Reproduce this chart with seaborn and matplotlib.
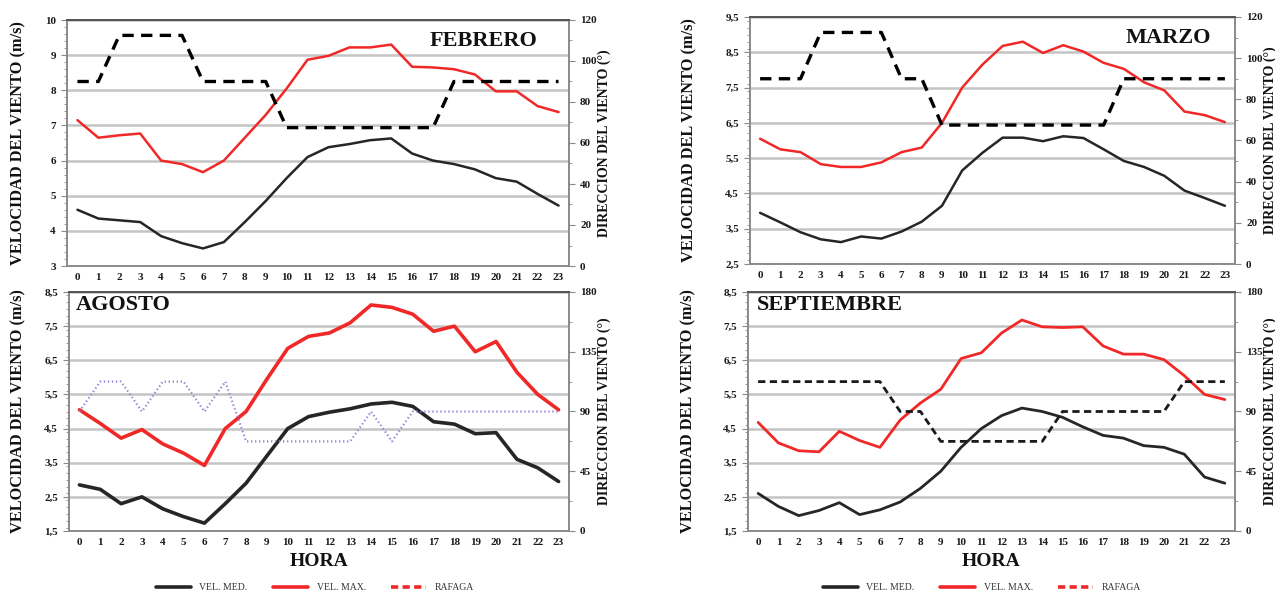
import numpy as np
import matplotlib
matplotlib.use("Agg")
import matplotlib.pyplot as plt
from matplotlib.lines import Line2D
from matplotlib.ticker import FixedLocator, MultipleLocator
import seaborn as sns

# ---------------- data ----------------
hours = list(range(24))
hour_labels = [str(h) for h in hours]

feb_vel_med = [4.60, 4.35, 4.30, 4.25, 3.85, 3.65, 3.50, 3.68, 4.25, 4.85, 5.50, 6.10,
               6.38, 6.47, 6.58, 6.63, 6.20, 6.00, 5.90, 5.75, 5.50, 5.40, 5.05, 4.72]
feb_vel_max = [7.15, 6.65, 6.72, 6.77, 6.00, 5.90, 5.67, 6.00, 6.65, 7.30, 8.05, 8.87,
               8.98, 9.22, 9.22, 9.30, 8.67, 8.65, 8.60, 8.45, 7.97, 7.97, 7.55, 7.38]
feb_rafaga = [90, 90, 112.5, 112.5, 112.5, 112.5, 90, 90, 90, 90, 67.5, 67.5,
              67.5, 67.5, 67.5, 67.5, 67.5, 67.5, 90, 90, 90, 90, 90, 90]

mar_vel_med = [3.95, 3.68, 3.40, 3.20, 3.12, 3.28, 3.22, 3.42, 3.70, 4.15, 5.15, 5.65,
               6.08, 6.08, 5.98, 6.12, 6.07, 5.75, 5.42, 5.25, 5.00, 4.58, 4.37, 4.15]
mar_vel_max = [6.05, 5.75, 5.67, 5.33, 5.25, 5.25, 5.38, 5.67, 5.80, 6.50, 7.50, 8.15,
               8.68, 8.80, 8.48, 8.70, 8.52, 8.20, 8.03, 7.65, 7.42, 6.82, 6.72, 6.52]
mar_rafaga = [90, 90, 90, 112.5, 112.5, 112.5, 112.5, 90, 90, 67.5, 67.5, 67.5,
              67.5, 67.5, 67.5, 67.5, 67.5, 67.5, 90, 90, 90, 90, 90, 90]

ago_vel_med = [2.85, 2.72, 2.30, 2.50, 2.15, 1.92, 1.73, 2.30, 2.90, 3.70, 4.50, 4.85,
               4.98, 5.08, 5.22, 5.27, 5.15, 4.70, 4.63, 4.35, 4.38, 3.60, 3.35, 2.95]
ago_vel_max = [5.05, 4.65, 4.22, 4.47, 4.05, 3.78, 3.42, 4.50, 5.00, 5.95, 6.85, 7.20,
               7.30, 7.60, 8.12, 8.05, 7.85, 7.35, 7.50, 6.75, 7.05, 6.15, 5.50, 5.05]
ago_direccion = [90, 112.5, 112.5, 90, 112.5, 112.5, 90, 112.5, 67.5, 67.5, 67.5, 67.5,
                 67.5, 67.5, 90, 67.5, 90, 90, 90, 90, 90, 90, 90, 90]

sep_vel_med = [2.60, 2.22, 1.95, 2.10, 2.33, 1.98, 2.12, 2.35, 2.75, 3.25, 3.95, 4.50,
               4.88, 5.10, 5.00, 4.83, 4.55, 4.30, 4.22, 4.00, 3.95, 3.75, 3.08, 2.90]
sep_vel_max = [4.68, 4.08, 3.85, 3.82, 4.42, 4.15, 3.95, 4.75, 5.25, 5.65, 6.55, 6.72,
               7.30, 7.68, 7.48, 7.46, 7.48, 6.92, 6.68, 6.68, 6.52, 6.05, 5.50, 5.35]
sep_rafaga = [112.5, 112.5, 112.5, 112.5, 112.5, 112.5, 112.5, 90, 90, 67.5, 67.5, 67.5,
              67.5, 67.5, 67.5, 90, 90, 90, 90, 90, 90, 112.5, 112.5, 112.5]

feb_yticks = [3, 4, 5, 6, 7, 8, 9, 10]
feb_yticklabels = ["3", "4", "5", "6", "7", "8", "9", "10"]
mar_yticks = [2.5, 3.5, 4.5, 5.5, 6.5, 7.5, 8.5, 9.5]
mar_yticklabels = ["2,5", "3,5", "4,5", "5,5", "6,5", "7,5", "8,5", "9,5"]
bot_yticks = [1.5, 2.5, 3.5, 4.5, 5.5, 6.5, 7.5, 8.5]
bot_yticklabels = ["1,5", "2,5", "3,5", "4,5", "5,5", "6,5", "7,5", "8,5"]
top_rticks = [0, 20, 40, 60, 80, 100, 120]
bot_rticks = [0, 45, 90, 135, 180]

legend_labels = ["VEL. MED.", "VEL. MAX.", "RAFAGA"]

# ---------------- style ----------------
sns.set_style("white")
plt.rcParams['font.family'] = ['Liberation Serif', 'DejaVu Serif']

W, H = 1275, 595
fig = plt.figure(figsize=(W / 100, H / 100), dpi=100)

RED = '#F02828'
DARK = '#262626'
PURPLE = '#9A80DC'
GRID = '#C4C4C4'
SPINE = '#8A8A8A'


def px_rect(x0, y0, x1, y1):
    return [x0 / W, 1 - y1 / H, (x1 - x0) / W, (y1 - y0) / H]


panels = [
    dict(title="FEBRERO", med=feb_vel_med, mx=feb_vel_max, dirn=feb_rafaga,
         ylim=(3, 10), yt=feb_yticks, ytl=feb_yticklabels, rlim=(0, 120), rt=top_rticks,
         rminor=10, yminor=0.2, rect=(67, 20, 569, 266), txy=(0.829, 0.915), ha='center',
         lw=1.8, loff=49, dstyle=dict(color='black', lw=2.4, dashes=(3.4, 2.2))),
    dict(title="MARZO", med=mar_vel_med, mx=mar_vel_max, dirn=mar_rafaga,
         ylim=(2.5, 9.5), yt=mar_yticks, ytl=mar_yticklabels, rlim=(0, 120), rt=top_rticks,
         rminor=10, yminor=0.2, rect=(750, 17, 1235, 264), txy=(0.862, 0.915), ha='center',
         lw=1.8, loff=61, dstyle=dict(color='black', lw=2.4, dashes=(3.4, 2.2))),
    dict(title="AGOSTO", med=ago_vel_med, mx=ago_vel_max, dirn=ago_direccion,
         ylim=(1.5, 8.5), yt=bot_yticks, ytl=bot_yticklabels, rlim=(0, 180), rt=bot_rticks,
         rminor=22.5, yminor=0.2, rect=(69, 292, 569, 531), txy=(0.014, 0.945), ha='left',
         lw=2.6, loff=51, dstyle=dict(color=PURPLE, lw=1.6, dashes=(0.6, 1.2))),
    dict(title="SEPTIEMBRE", med=sep_vel_med, mx=sep_vel_max, dirn=sep_rafaga,
         ylim=(1.5, 8.5), yt=bot_yticks, ytl=bot_yticklabels, rlim=(0, 180), rt=bot_rticks,
         rminor=22.5, yminor=0.2, rect=(748, 292, 1235, 531), txy=(0.018, 0.945), ha='left',
         lw=2.0, loff=60, dstyle=dict(color='#1a1a1a', lw=2.0, dashes=(2.6, 1.6))),
]

tick_font = dict(fontsize=8, fontweight='bold')

for p in panels:
    x0, y0, x1, y1 = p['rect']
    ax = fig.add_axes(px_rect(x0, y0, x1, y1))
    ax2 = ax.twinx()

    sns.lineplot(x=hours, y=p['mx'], ax=ax, color=RED, linewidth=p['lw'], legend=False)
    sns.lineplot(x=hours, y=p['med'], ax=ax, color=DARK, linewidth=p['lw'], legend=False)
    ds = p['dstyle']
    sns.lineplot(x=hours, y=p['dirn'], ax=ax2, color=ds['color'], linewidth=ds['lw'],
                 legend=False)
    ax2.lines[-1].set_dashes(ds['dashes'])
    for ln in ax.lines:
        ln.set_solid_joinstyle('round')
        ln.set_solid_capstyle('round')

    ax.set_xlim(-0.5, 23.5)
    ax.set_ylim(*p['ylim'])
    ax2.set_ylim(*p['rlim'])
    ax.set_xlabel('')
    ax.set_ylabel('')
    ax2.set_ylabel('')

    ax.set_xticks(hours)
    ax.set_xticklabels(hour_labels, **tick_font)
    ax.xaxis.set_minor_locator(FixedLocator(np.arange(-0.5, 24, 1)))
    ax.tick_params(axis='x', which='major', length=0, pad=5, colors='#1a1a1a')
    ax.tick_params(axis='x', which='minor', length=3, color=SPINE, direction='out')

    ax.set_yticks(p['yt'])
    ax.set_yticklabels(p['ytl'], **tick_font)
    ax.yaxis.set_minor_locator(MultipleLocator(p['yminor']))
    ax.tick_params(axis='y', which='major', length=4, pad=4, colors='#1a1a1a')
    ax.tick_params(axis='y', which='minor', length=2)
    ax.tick_params(axis='y', which='both', color=SPINE)

    ax2.set_yticks(p['rt'])
    ax2.set_yticklabels([str(v) for v in p['rt']], **tick_font)
    ax2.yaxis.set_minor_locator(MultipleLocator(p['rminor']))
    ax2.tick_params(axis='y', which='major', length=4, pad=4, colors='#1a1a1a')
    ax2.tick_params(axis='y', which='minor', length=2)
    ax2.tick_params(axis='y', which='both', color=SPINE)

    ax.grid(True, axis='y', which='major', color=GRID, linewidth=1.8)
    ax.grid(False, axis='x')
    ax.set_axisbelow(True)

    for a in (ax, ax2):
        for s in a.spines.values():
            s.set_color(SPINE)
            s.set_linewidth(1.2)
        a.spines['top'].set_color('#555555')
        a.spines['top'].set_linewidth(1.4)

    ax2.text(p['txy'][0], p['txy'][1], p['title'], transform=ax.transAxes,
             ha=p['ha'], va='center', fontsize=16, fontweight='bold', color='#111111')

    # axis titles
    cy = 1 - (y0 + y1) / 2 / H
    lx = (x0 - p['loff']) / W
    rx = (x1 + 35) / W
    fig.text(lx, cy, "VELOCIDAD DEL VIENTO (m/s)", rotation=90, ha='center', va='center',
             fontsize=11.8, fontweight='bold', color='#111111')
    fig.text(rx, cy, "DIRECCION DEL VIENTO (°)", rotation=90, ha='center', va='center',
             fontsize=10, fontweight='bold', color='#111111')

# x titles and legends for bottom row
for cx in (319, 991):
    fig.text(cx / W, 1 - 561 / H, "HORA", ha='center', va='center', fontsize=14,
             fontweight='bold', color='#111111')

for cx in (315, 982):
    handles = [Line2D([], [], color=DARK, lw=2.6),
               Line2D([], [], color=RED, lw=2.6),
               Line2D([], [], color=RED, lw=2.6, dashes=(2.0, 1.2))]
    fig.legend(handles, legend_labels, loc='center', bbox_to_anchor=(cx / W, 1 - 588 / H),
               ncol=3, frameon=False, fontsize=7, handlelength=3.6, columnspacing=2.6,
               handletextpad=0.9, labelcolor='#333333')

fig.savefig("out.png", dpi=100)
